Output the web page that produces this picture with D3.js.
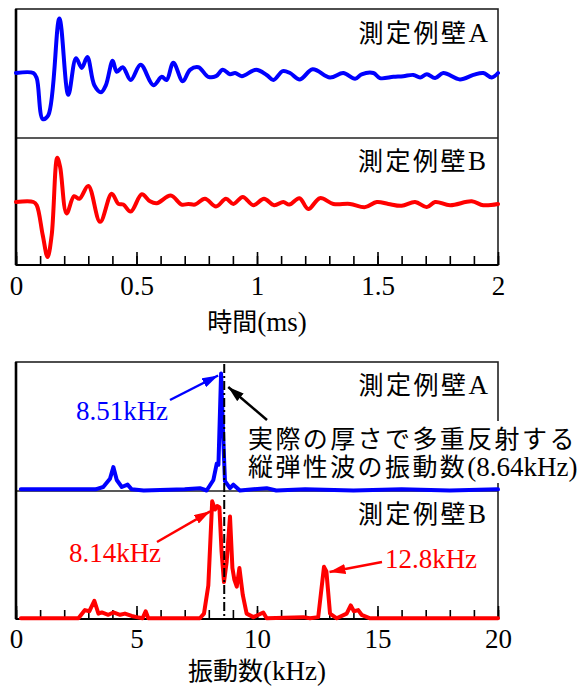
<!DOCTYPE html>
<html><head><meta charset="utf-8">
<script src="https://cdnjs.cloudflare.com/ajax/libs/d3/7.8.5/d3.min.js"></script>
<style>
html,body{margin:0;padding:0;background:#fff;}
svg{display:block;}
</style></head>
<body><svg id="c" width="584" height="691"></svg>
<script>
// ---- data ----
const timeA = [0,0.072,0.086,0.111,0.134,0.18,0.217,0.249,0.273,0.296,0.325,0.353,0.373,0.401,0.418,0.443,0.476,0.517,0.570,0.605,0.625,0.653,0.692,0.722,0.757,0.798,0.830,0.858,0.888,0.909,0.937,0.996,1.040,1.068,1.107,1.137,1.178,1.231,1.303,1.358,1.407,1.434,1.483,1.510,1.566,1.607,1.649,1.677,1.705,1.739,1.773,1.842,1.898,1.939,1.974,2.0];
const ampA  = [0,0,-0.08,-0.72,-0.66,0.85,-0.34,0.23,0.08,0.25,-0.19,-0.30,-0.19,0.19,0.02,0.09,-0.11,0.13,-0.19,-0.06,-0.11,0.16,-0.13,0.05,0.09,-0.06,-0.05,0.05,-0.02,0,-0.05,0.05,-0.03,-0.11,0.03,0,-0.10,0.06,-0.07,0,-0.09,-0.02,0,-0.08,-0.06,-0.05,-0.03,-0.07,-0.02,-0.08,0,-0.10,-0.03,0,-0.07,0];
const timeB = [0,0.072,0.086,0.111,0.131,0.148,0.171,0.183,0.21,0.241,0.263,0.300,0.349,0.397,0.425,0.445,0.476,0.522,0.556,0.584,0.642,0.687,0.715,0.743,0.784,0.830,0.871,0.902,0.941,0.985,1.029,1.071,1.109,1.134,1.176,1.213,1.261,1.317,1.386,1.448,1.497,1.545,1.600,1.656,1.704,1.739,1.801,1.891,1.939,2.0];
const ampB  = [0,0,-0.05,-0.52,-0.86,-0.52,0.69,0.55,-0.18,0.09,0.05,0.25,-0.31,0.13,-0.03,-0.04,-0.15,0.12,0.01,-0.02,0.10,-0.04,-0.03,-0.04,0.05,-0.07,0.05,-0.03,0.08,-0.05,0.05,-0.05,0,-0.04,0.06,-0.11,0.06,-0.03,-0.03,-0.08,0,-0.03,-0.06,0,-0.08,0,-0.05,0.01,-0.05,-0.03];
const freqA = [0.2,3.3,3.62,3.90,4.04,4.18,4.39,4.63,4.80,5.3,7.0,7.63,7.91,8.19,8.33,8.40,8.51,8.60,8.67,8.88,9.02,9.29,10.4,10.8,12.0,14.0,16.0,18.0,20.0];
const specA = [0.01,0.01,0.03,0.10,0.20,0.09,0.03,0.05,0.01,0.0,0.01,0.02,0.0,0.09,0.23,0.22,1.0,0.45,0.08,0.02,0.05,0.0,0.02,0.0,0.01,0.0,0.01,0.0,0.01];
const freqB = [0.2,2.59,2.86,3.04,3.25,3.42,3.56,3.83,4.04,4.32,4.52,4.80,5.01,5.25,5.38,5.49,7.63,7.80,7.98,8.14,8.26,8.35,8.44,8.53,8.63,8.74,8.88,8.98,9.06,9.16,9.27,9.41,9.57,9.85,10.26,10.40,11.92,12.2,12.54,12.78,12.88,13.03,13.31,13.72,13.89,14.02,14.20,14.34,14.69,20.0];
const specB = [0.0,0.0,0.07,0.06,0.15,0.04,0.05,0.03,0.05,0.03,0.04,0.02,0.01,0.0,0.06,0.0,0.0,0.04,0.28,1.0,0.93,0.96,0.95,0.57,0.31,0.48,0.87,0.43,0.33,0.27,0.43,0.20,0.04,0.01,0.05,0.0,0.01,0.0,0.01,0.44,0.40,0.04,0.0,0.04,0.11,0.06,0.07,0.03,0.0,0.0];
const timeTicks = [0,0.5,1,1.5,2];
const timeTickLabels = ["0","0.5","1","1.5","2"];
const freqTicks = [0,5,10,15,20];
const freqTickLabels = ["0","5","10","15","20"];
const wallLabels = ["測定例壁","A","B"];
const peakA = 8.51, peakB = 8.14, peakB2 = 12.8, theory = 8.64;
const peakALabel = "8.51kHz", peakBLabel = "8.14kHz", peakB2Label = "12.8kHz";
const noteLine1 = "実際の厚さで多重反射する";
const noteLine2jp = "縦弾性波の振動数", noteLine2 = "(8.64kHz)";
const xTitleTime = ["時間","(ms)"], xTitleFreq = ["振動数","(kHz)"];

// ---- layout ----
const JP = "'Noto Sans CJK JP', 'Noto Sans', sans-serif";
const SF = "'Liberation Serif', 'Times New Roman', serif";
const svg = d3.select("#c");
const L = 16, R = 498;
const top1 = 9, mid1 = 138, bot1 = 265;
const top2 = 362, mid2 = 491, bot2 = 619;
const BLUE = "#0000ff", RED = "#ff0000";

const xT = d3.scaleLinear().domain([0,2]).range([L,R]);
const yTA = d3.scaleLinear().domain([-1,1]).range([137,9]);
const yTB = d3.scaleLinear().domain([-1,1]).range([266,138]);
const xF = d3.scaleLinear().domain([0,20]).range([L,R]);
const ySA = d3.scaleLinear().domain([0,1]).range([490.5,373.5]);
const ySB = d3.scaleLinear().domain([0,1]).range([618.3,501.3]);

const defs = svg.append("defs");
function marker(id, color){
  defs.append("marker").attr("id",id).attr("viewBox","0 0 16 10").attr("refX",16).attr("refY",5)
    .attr("markerWidth",16).attr("markerHeight",10).attr("markerUnits","userSpaceOnUse").attr("orient","auto")
    .append("path").attr("d","M0,0 L16,5 L0,10 Z").attr("fill",color);
}
marker("mBlue",BLUE); marker("mRed",RED); marker("mBlack","#000");

// frames
function frame(y0,ym,y1){
  svg.append("rect").attr("x",L).attr("y",y0).attr("width",R-L).attr("height",y1-y0)
    .attr("fill","none").attr("stroke","#222").attr("stroke-width",1.6);
  svg.append("line").attr("x1",L).attr("x2",R).attr("y1",ym).attr("y2",ym).attr("stroke","#222").attr("stroke-width",1.6);
  svg.append("line").attr("x1",L).attr("x2",L).attr("y1",y0).attr("y2",y1).attr("stroke","#000").attr("stroke-width",2.6);
}
frame(top1,mid1,bot1);
frame(top2,mid2,bot2);

// axes
function axis(x, yPos, minorStep, ticks, labels, domainMax, pad){
  const minor = d3.range(0, domainMax+1e-9, minorStep);
  const gm = svg.append("g").attr("transform",`translate(0,${yPos})`)
    .call(d3.axisBottom(x).tickValues(minor).tickSize(-9).tickFormat(""));
  gm.select(".domain").remove();
  gm.selectAll("line").attr("stroke","#000").attr("stroke-width",1.6);
  const gM = svg.append("g").attr("transform",`translate(0,${yPos})`)
    .call(d3.axisBottom(x).tickValues(ticks).tickSize(-13).tickPadding(pad).tickFormat((d,i)=>labels[i]));
  gM.select(".domain").remove();
  gM.attr("font-family",null).attr("font-size",null);
  gM.selectAll("line").attr("stroke","#000").attr("stroke-width",1.6);
  gM.selectAll("text").style("font-family",SF).style("font-size","27px").attr("fill","#000");
  svg.append("line").attr("x1",L).attr("x2",R).attr("y1",yPos).attr("y2",yPos).attr("stroke","#000").attr("stroke-width",2);
}
axis(xT, bot1, 0.1, timeTicks, timeTickLabels, 2, 11);
axis(xF, bot2, 1, freqTicks, freqTickLabels, 20, 10);

// lines
function draw(xs, ys, xsc, ysc, color, curve){
  const data = xs.map((d,i)=>[d, ys[i]]);
  svg.append("path").datum(data)
    .attr("d", d3.line().x(d=>xsc(d[0])).y(d=>ysc(d[1])).curve(curve))
    .attr("fill","none").attr("stroke",color).attr("stroke-width",4)
    .attr("stroke-linejoin","round").attr("stroke-linecap","round");
}
draw(timeA, ampA, xT, yTA, BLUE, d3.curveCatmullRom.alpha(0.5));
draw(timeB, ampB, xT, yTB, RED, d3.curveCatmullRom.alpha(0.5));
draw(freqA, specA, xF, ySA, BLUE, d3.curveLinear);
draw(freqB, specB, xF, ySB, RED, d3.curveLinear);

// theoretical dash-dot line
svg.append("line").attr("x1",xF(theory)).attr("x2",xF(theory)).attr("y1",top2+2).attr("y2",bot2)
  .attr("stroke","#000").attr("stroke-width",2).attr("stroke-dasharray","9,3,2,3");

// wall labels
function wall(x, y, letter){
  const t = svg.append("text").attr("x",x).attr("y",y).attr("text-anchor","end").attr("fill","#000");
  t.append("tspan").style("font-family",JP).style("font-size","25px").attr("letter-spacing","2.5").text(wallLabels[0]);
  t.append("tspan").style("font-family",SF).style("font-size","27px").text(letter);
}
wall(488, 42, wallLabels[1]);
wall(486, 170, wallLabels[2]);
wall(488, 394, wallLabels[1]);
wall(486, 523, wallLabels[2]);

// axis titles
function title(y, parts){
  const t = svg.append("text").attr("x",(L+R)/2).attr("y",y).attr("text-anchor","middle").attr("fill","#000");
  t.append("tspan").style("font-family",JP).style("font-size","25px").text(parts[0]);
  t.append("tspan").style("font-family",SF).style("font-size","27px").text(parts[1]);
}
title(331, xTitleTime);
title(680, xTitleFreq);

// annotations
function arrow(x1,y1,x2,y2,color,m){
  svg.append("line").attr("x1",x1).attr("y1",y1).attr("x2",x2).attr("y2",y2)
    .attr("stroke",color).attr("stroke-width",2.5).attr("marker-end",`url(#${m})`);
}
function label(x,y,color,txt){
  svg.append("text").attr("x",x).attr("y",y).attr("text-anchor","middle")
    .style("font-family",SF).style("font-size","27px").attr("fill",color).text(txt);
}
label(122,420,BLUE,peakALabel);
arrow(170,400, xF(peakA)-3, ySA(1)+2, BLUE, "mBlue");
label(115,562,RED,peakBLabel);
arrow(157,542, xF(peakB)-2, ySB(1)+10, RED, "mRed");
label(431,568,RED,peakB2Label);
arrow(382,562, xF(peakB2)+5, ySB(0.43)+4, RED, "mRed");

// note with white background
svg.append("rect").attr("x",244).attr("y",421).attr("width",340).attr("height",62).attr("fill","#fff");
svg.append("text").attr("x",248).attr("y",448).style("font-family",JP).style("font-size","25px")
  .attr("letter-spacing","2.4").attr("fill","#000").text(noteLine1);
const n2 = svg.append("text").attr("x",248).attr("y",476).attr("fill","#000");
n2.append("tspan").style("font-family",JP).style("font-size","25px").attr("letter-spacing","2.4").text(noteLine2jp);
n2.append("tspan").style("font-family",SF).style("font-size","27px").text(noteLine2);
arrow(267,420, xF(theory)+4, 387, "#000", "mBlack");
</script></body></html>
